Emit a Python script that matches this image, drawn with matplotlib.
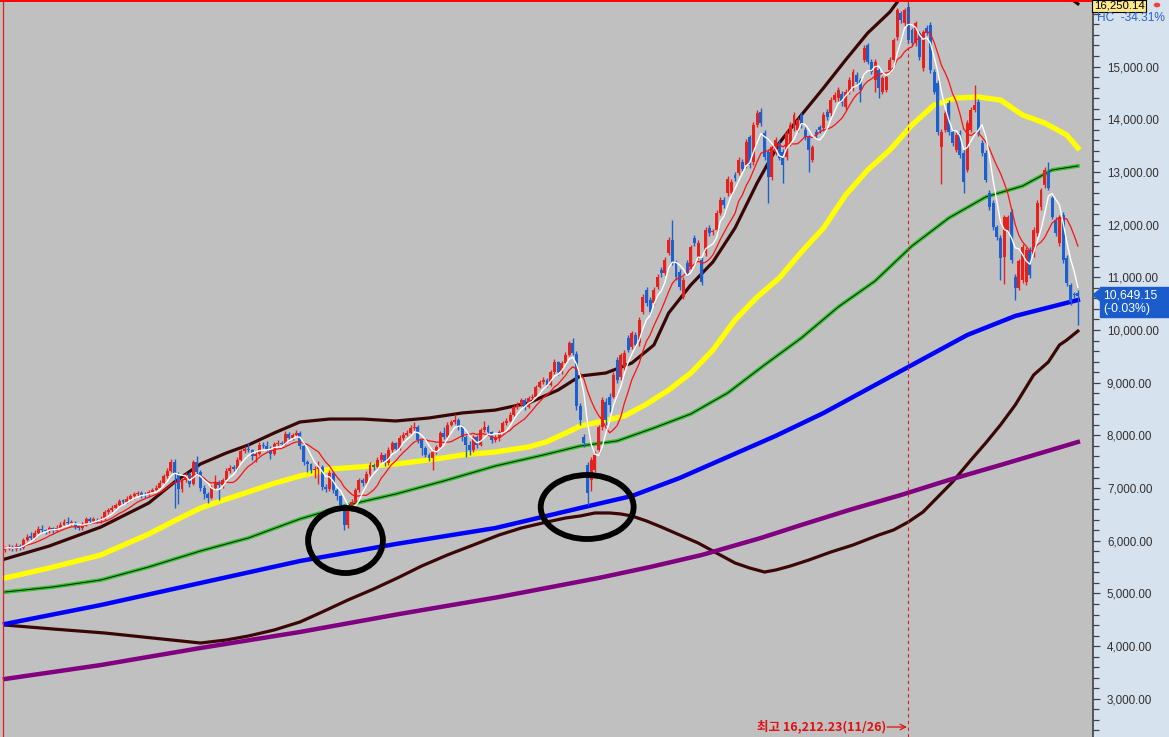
import matplotlib
matplotlib.use("Agg")
import matplotlib.pyplot as plt
import numpy as np
import pandas as pd
from matplotlib.patches import Ellipse, Rectangle, Polygon, Circle
from matplotlib.ticker import MultipleLocator, FuncFormatter

# ---------------- data (weekly candles) ----------------
opens = [5820, 5860, 5880, 5840, 5900, 5870, 6010, 6080, 6060, 6150, 6230, 6200, 6180, 6240, 6190, 6250, 6300, 6360, 6330, 6340,
         6270, 6240, 6310, 6420, 6380, 6400, 6370, 6420, 6550, 6580, 6630, 6680, 6760, 6740, 6800, 6840, 6880, 6900, 6870, 6860,
         6930, 6970, 7000, 7100, 7220, 7330, 7500, 7260, 6980, 7150, 7260, 7080, 7490, 7300, 7000, 6880, 6820, 7000, 7120, 7050,
         7150, 7330, 7380, 7370, 7540, 7700, 7750, 7720, 7600, 7650, 7820, 7800, 7750, 7650, 7830, 7860, 7830, 8030, 7950, 8000,
         8050, 7800, 7490, 7450, 7340, 7370, 7400, 7020, 6990, 7290, 6960, 6840, 6680, 6300, 6620, 6740, 6960, 7150, 7100, 7270,
         7440, 7400, 7530, 7630, 7470, 7720, 7850, 7750, 7950, 8010, 8050, 8140, 8160, 7910, 7760, 7630, 7570, 7690, 7780, 8040,
         7970, 8200, 8250, 8290, 8160, 7970, 7820, 7720, 7970, 7820, 8100, 8160, 8060, 7910, 7950, 8060, 8230, 8280, 8390, 8540,
         8580, 8670, 8540, 8710, 8730, 8920, 9010, 9050, 8960, 9200, 9390, 9200, 9370, 9530, 9750, 9550, 8560, 7960, 7440, 7150,
         7350, 7720, 8160, 8630, 8730, 8730, 9430, 9100, 9300, 9850, 9680, 9900, 9750, 10340, 10760, 10570, 10510, 10820, 11140, 11080,
         11460, 11710, 11270, 11100, 10630, 11270, 11200, 11750, 11390, 11330, 11460, 11940, 11860, 11900, 12220, 12470, 12600, 12600, 12940, 12980,
         13190, 13130, 13660, 13190, 13890, 14140, 13740, 13380, 12900, 13380, 13550, 13380, 13280, 13550, 13830, 13800, 14080, 13800, 13660, 13230,
         13760, 13850, 13830, 14140, 14120, 14370, 14400, 14480, 14230, 14520, 14590, 14840, 14740, 15130, 15400, 15090, 14740, 14930, 14520, 14560,
         14935, 15125, 15560, 16010, 15820, 16130, 15690, 15440, 15630, 14970, 15730, 15790, 14900, 14690, 13470, 13800, 14310, 13760, 13420, 13740,
         13360, 13040, 13800, 14180, 14330, 13550, 13360, 12600, 12410, 11950, 11750, 11390, 11900, 12240, 11010, 10800, 10940, 10910, 11520, 11440,
         11840, 12330, 12750, 13000, 12500, 12090, 11650, 12180, 11370, 10850, 10680, 10700]
closes = [5860, 5880, 5840, 5900, 5870, 6010, 6080, 6060, 6150, 6230, 6200, 6180, 6240, 6190, 6250, 6300, 6360, 6330, 6340, 6270,
          6240, 6310, 6420, 6380, 6400, 6370, 6420, 6550, 6580, 6630, 6680, 6760, 6740, 6800, 6840, 6880, 6900, 6870, 6860, 6930,
          6970, 7000, 7100, 7220, 7330, 7500, 7260, 6980, 7150, 7260, 7080, 7490, 7300, 7000, 6880, 6820, 7000, 7120, 7050, 7150,
          7330, 7380, 7370, 7540, 7700, 7750, 7720, 7600, 7650, 7820, 7800, 7750, 7650, 7830, 7860, 7830, 8030, 7950, 8000, 8050,
          7800, 7490, 7450, 7340, 7370, 7400, 7020, 6990, 7290, 6960, 6840, 6680, 6300, 6620, 6740, 6960, 7150, 7100, 7270, 7440,
          7400, 7530, 7630, 7470, 7720, 7850, 7750, 7950, 8010, 8050, 8140, 8160, 7910, 7760, 7630, 7570, 7690, 7780, 8040, 7970,
          8200, 8250, 8290, 8160, 7970, 7820, 7720, 7970, 7820, 8100, 8160, 8060, 7910, 7950, 8060, 8230, 8280, 8390, 8540, 8580,
          8670, 8540, 8710, 8730, 8920, 9010, 9050, 8960, 9200, 9390, 9200, 9370, 9530, 9750, 9560, 8560, 8300, 7860, 6900, 7530,
          7630, 8160, 8670, 8290, 8580, 9150, 9050, 9530, 9560, 9620, 9940, 9720, 10190, 10630, 10510, 10340, 10760, 11010, 11080, 11330,
          11710, 11290, 11010, 10820, 10950, 11080, 11580, 11650, 11650, 10910, 11900, 11840, 11870, 12220, 12470, 12370, 12870, 12810, 12880, 13230,
          13060, 13570, 13130, 13890, 14120, 13930, 13280, 12900, 13470, 13610, 13270, 13130, 13740, 13890, 14080, 13990, 13890, 13660, 13420, 13470,
          13700, 13790, 14080, 14040, 14370, 14460, 14560, 14310, 14520, 14750, 14900, 14700, 14560, 15360, 15090, 14900, 15090, 14590, 14780, 14800,
          15125, 15500, 16070, 15880, 16070, 15500, 15440, 15820, 15180, 15650, 15640, 14930, 14520, 13760, 13760, 14120, 13760, 13550, 13700, 13320,
          12810, 13930, 14180, 14270, 13740, 13360, 12850, 12330, 11950, 11760, 11370, 12140, 12140, 11330, 10800, 11300, 11580, 11520, 11040, 11900,
          12410, 12650, 13040, 12700, 12150, 11840, 12140, 11330, 10890, 10530, 10660, 10649]
highs = [5900, 5930, 5910, 5950, 5940, 6060, 6130, 6170, 6200, 6280, 6300, 6230, 6280, 6270, 6300, 6350, 6410, 6450, 6390, 6370,
         6300, 6360, 6460, 6450, 6450, 6430, 6470, 6590, 6630, 6680, 6720, 6800, 6800, 6850, 6880, 6930, 6950, 6940, 6920, 6970,
         7010, 7050, 7150, 7270, 7380, 7550, 7560, 7300, 7200, 7310, 7300, 7540, 7600, 7340, 7050, 6920, 7050, 7250, 7150, 7200,
         7380, 7430, 7430, 7590, 7750, 7800, 7850, 7750, 7700, 7870, 7870, 7900, 7790, 7880, 7910, 7900, 8080, 8070, 8050, 8110,
         8080, 7830, 7540, 7480, 7420, 7520, 7430, 7080, 7340, 7320, 7000, 6870, 6700, 6660, 6790, 7000, 7190, 7200, 7320, 7490,
         7480, 7580, 7680, 7660, 7770, 7890, 7880, 8000, 8060, 8100, 8200, 8260, 8190, 7940, 7790, 7660, 7740, 7820, 8080, 8150,
         8250, 8300, 8400, 8330, 8190, 8000, 7900, 8000, 8000, 8140, 8270, 8200, 8090, 8010, 8100, 8270, 8330, 8440, 8580, 8630,
         8710, 8700, 8750, 8780, 8960, 9060, 9100, 9090, 9240, 9440, 9420, 9420, 9580, 9800, 9850, 9600, 8620, 8020, 7500, 7580,
         7700, 8200, 8720, 8700, 8800, 9200, 9480, 9560, 9620, 9900, 9980, 9960, 10240, 10680, 10810, 10620, 10810, 11060, 11190, 11380,
         11760, 12090, 11320, 11150, 11000, 11320, 11620, 11800, 11700, 11380, 11950, 11990, 11920, 12270, 12520, 12520, 12920, 12860, 12990, 13280,
         13240, 13620, 13710, 13940, 14170, 14210, 13790, 13430, 13520, 13660, 13600, 13430, 13790, 13940, 14130, 14040, 14130, 13850, 13710, 13520,
         13810, 13900, 14130, 14190, 14420, 14510, 14610, 14530, 14570, 14800, 14950, 14890, 14790, 15410, 15450, 15140, 15140, 14980, 14830, 14850,
         15180, 15550, 16120, 16060, 16120, 16212, 15740, 15870, 15680, 15700, 15780, 15840, 14950, 14740, 13810, 14170, 14360, 13810, 13750, 13790,
         13410, 13980, 14230, 14650, 14380, 13600, 13410, 12650, 12460, 12000, 11800, 12190, 12190, 12290, 11060, 11350, 11630, 11570, 11570, 11950,
         12460, 12700, 13090, 13190, 12550, 12140, 12190, 12230, 11420, 10900, 10720, 10760]
lows = [5790, 5820, 5800, 5810, 5830, 5850, 5990, 6020, 6040, 6120, 6150, 6120, 6150, 6150, 6170, 6220, 6280, 6300, 6290, 6230,
        6200, 6210, 6280, 6340, 6350, 6330, 6340, 6400, 6510, 6550, 6600, 6650, 6690, 6710, 6760, 6800, 6840, 6820, 6810, 6830,
        6900, 6940, 6980, 7080, 7190, 7300, 6620, 6700, 6920, 7110, 7020, 7050, 7250, 6950, 6800, 6720, 6790, 6970, 6780, 7010,
        7120, 7290, 7320, 7340, 7510, 7660, 7680, 7540, 7500, 7620, 7760, 7700, 7560, 7620, 7800, 7780, 7810, 7900, 7920, 7960,
        7750, 7440, 7300, 7280, 7200, 7080, 6960, 6920, 6940, 6900, 6780, 6620, 6200, 6250, 6580, 6700, 6920, 7040, 7060, 7230,
        7350, 7370, 7500, 7420, 7440, 7690, 7700, 7720, 7920, 7980, 8020, 8110, 7860, 7620, 7580, 7510, 7340, 7650, 7750, 7930,
        7940, 8170, 8220, 8110, 7900, 7580, 7620, 7690, 7760, 7790, 8060, 8010, 7860, 7880, 7900, 8030, 8190, 8250, 8360, 8500,
        8550, 8490, 8510, 8680, 8700, 8890, 8980, 8920, 8930, 9170, 9150, 9170, 9340, 9500, 9520, 8480, 8200, 7780, 6680, 6950,
        7300, 7650, 8100, 8200, 8450, 8700, 9000, 9050, 9250, 9580, 9640, 9680, 9700, 10300, 10460, 10280, 10470, 10780, 11000, 11040,
        11420, 11240, 10950, 10760, 10580, 11030, 11150, 11600, 11350, 10850, 11400, 11790, 11810, 11860, 12180, 12320, 12550, 12560, 12830, 12940,
        13010, 13080, 13080, 13140, 13850, 13880, 13230, 12410, 12850, 13330, 13220, 12790, 13230, 13500, 13780, 13750, 13840, 13610, 12990, 13180,
        13650, 13740, 13780, 13990, 14070, 14320, 14350, 14260, 14180, 14470, 14540, 14650, 14330, 15080, 15040, 14850, 14520, 14400, 14470, 14510,
        14880, 15070, 15510, 15830, 15770, 15450, 15390, 15390, 15130, 14920, 15590, 14880, 14470, 13710, 12770, 13750, 13710, 13500, 13370, 13270,
        12600, 12990, 13750, 14130, 13690, 13310, 12800, 12280, 11900, 11710, 10950, 10870, 11850, 11280, 10570, 10750, 10890, 10860, 10990, 11390,
        11790, 12280, 12700, 12650, 12100, 11790, 11600, 11280, 10840, 10480, 10600, 10100]

# long moving averages and envelope, read at candle positions
ma_yellow_idx = [0, 12, 26, 39, 46, 53, 60, 66, 73, 80, 88, 96, 106, 115, 124, 133, 142, 147, 152, 156, 161, 168, 174, 180,
                 186, 192, 198, 204, 210, 216, 222, 228, 234, 240, 246, 252, 258, 264, 270, 276, 282, 288, 291]
ma_yellow = [5293, 5483, 5730, 6128, 6380, 6620, 6790, 6925, 7090, 7228, 7360, 7400, 7456, 7533, 7627, 7685, 7780, 7880, 8040, 8177,
             8253, 8367, 8594, 8860, 9183, 9620, 10190, 10626, 10986, 11480, 11935, 12562, 13037, 13416, 13890, 14270, 14403, 14422, 14365,
             14080, 13928, 13700, 13454]
ma_green_idx = [0, 13, 26, 39, 53, 66, 80, 93, 106, 119, 133, 146, 156, 166, 176, 186, 196, 206, 216, 226, 236, 246, 256, 266, 276, 284, 291]
ma_green = [5027, 5122, 5255, 5502, 5805, 6052, 6413, 6678, 6887, 7134, 7419, 7627, 7798, 7893, 8140, 8406, 8804, 9336, 9848, 10437,
            10930, 11594, 12126, 12524, 12733, 13037, 13113]
ma_blue_idx = [0, 26, 53, 80, 106, 133, 156, 170, 183, 196, 209, 222, 235, 248, 261, 274, 291]
ma_blue = [4420, 4780, 5198, 5615, 5938, 6241, 6621, 6849, 7191, 7590, 7989, 8424, 8918, 9412, 9905, 10266, 10569]
ma_purple_idx = [0, 26, 53, 80, 107, 134, 161, 175, 189, 205, 216, 229, 243, 256, 270, 291]
ma_purple = [3376, 3641, 3964, 4268, 4610, 4932, 5293, 5502, 5730, 6052, 6300, 6584, 6868, 7153, 7437, 7874]
band_up_idx = [0, 12, 26, 39, 46, 53, 60, 66, 73, 80, 88, 97, 106, 115, 124, 133, 142, 150, 156, 163, 170, 176, 180,
               186, 192, 198, 204, 210, 216, 222, 228, 234, 240, 246, 256, 266, 276, 286, 291]
band_up = [5653, 5900, 6260, 6716, 7115, 7456, 7665, 7817, 8045, 8254, 8310, 8310, 8273, 8330, 8425, 8480, 8615, 8860, 9127, 9184,
           9373, 9715, 10322, 10854, 11290, 11935, 12790, 13549, 14080, 14593, 15125, 15637, 16035, 16600, 17100, 17200, 16900, 16450, 16190]
band_lo_idx = [0, 13, 27, 40, 53, 60, 66, 73, 80, 86, 93, 100, 107, 113, 120, 127, 134, 140, 147, 152, 156, 160, 164, 167, 170, 174,
               178, 183, 188, 193, 198, 202, 206, 209, 213, 218, 224, 230, 237, 241, 245, 249, 253, 257, 262, 266, 270, 274, 279, 283, 286, 288, 291]
band_lo = [4400, 4325, 4249, 4154, 4059, 4116, 4192, 4306, 4458, 4647, 4875, 5084, 5312, 5520, 5730, 5919, 6109, 6241, 6356, 6431,
           6470, 6527, 6527, 6508, 6470, 6375, 6261, 6109, 5957, 5767, 5578, 5482, 5406, 5444, 5520, 5634, 5786, 5919, 6109, 6204,
           6356, 6546, 6830, 7115, 7533, 7855, 8197, 8576, 9146, 9393, 9715, 9810, 9980]

hc_value = 16250.14
hc_label = "16,250.14"
hc_change = "HC  -34.31%"
last_label = "10,649.15"
last_change = "(-0.03%)"
peak_index = 245
peak_text = "최고 16,212.23(11/26)"
y_ticks = list(range(3000, 16001, 1000))

# ---------------- figure ----------------
W, H = 1169, 737
fig = plt.figure(figsize=(W / 100, H / 100), dpi=100, facecolor="#d7e2ef")
ax = fig.add_axes([0, 0, 1093 / W, 1])
ax.set_facecolor("#c0c0c0")
ax.set_xlim(-1.36, 295.1)
ax.set_ylim(2275, 16263)

O = np.array(opens, float)
C = np.array(closes, float)
Hh = np.array(highs, float)
L = np.array(lows, float)
idx = np.arange(len(C))

# long lines
ax.plot(band_up_idx, band_up, color="#3a0606", lw=2.3, zorder=2)
ax.plot(band_lo_idx, band_lo, color="#3a0606", lw=2.3, zorder=2)
ax.plot(ma_purple_idx, ma_purple, color="#800080", lw=3.2, zorder=2)
ax.plot(ma_blue_idx, ma_blue, color="#0000ff", lw=3.2, zorder=2)
ax.plot(ma_green_idx, ma_green, color="#33c033", lw=2.8, zorder=2)
ax.plot(ma_green_idx, ma_green, color="#102000", lw=0.7, zorder=2)
ax.plot(ma_yellow_idx, ma_yellow, color="#ffff00", lw=3.8, zorder=2)

# candles
up = C >= O
cols = np.where(up, "#e8201c", "#1c60d0")
ax.vlines(idx, L, Hh, colors=cols, lw=1.0, zorder=3)
bottom = np.minimum(O, C)
height = np.maximum(np.abs(C - O), 25)
ax.bar(idx, height, bottom=bottom, width=0.8, color=cols, linewidth=0, zorder=3)

# short moving averages
s = pd.Series(C)
ax.plot(idx, s.rolling(10, min_periods=1).mean(), color="#ff1010", lw=0.9, zorder=4)
ax.plot(idx, s.rolling(5, min_periods=1).mean(), color="#ffffff", lw=1.0, zorder=4)

# HC line, left marker line, peak marker
ax.axhline(hc_value, color="#ff0000", lw=1.4, zorder=5)
ax.axvline(-0.55, color="#e02020", lw=0.9, zorder=5)
ax.axvline(peak_index, color="#d02020", lw=0.8, ls=(0, (3, 3)), zorder=5)

# circles
for cx, cy, w, h in [(92.35, 6004, 20.3, 1234), (157.9, 6640, 25.2, 1215)]:
    ax.add_patch(Ellipse((cx, cy), w, h, fill=False, edgecolor="black", lw=4.2, zorder=6))

# bottom peak text + arrow
ax.annotate("", xy=(907 / 1093, 1 - 727 / 737), xytext=(887 / 1093, 1 - 727 / 737),
            xycoords="axes fraction", textcoords="axes fraction",
            arrowprops=dict(arrowstyle="->", color="#e01010", lw=0.9, shrinkA=0, shrinkB=0), zorder=7)
ax.text(886 / 1093, 1 - 727 / 737, peak_text, transform=ax.transAxes, ha="right", va="center",
        color="#e01010", fontsize=9, fontweight="bold", family=["Noto Sans CJK KR", "DejaVu Sans"], zorder=7)

# axis styling
for sp in ["top", "left", "bottom"]:
    ax.spines[sp].set_visible(False)
ax.spines["right"].set_color("#404040")
ax.spines["right"].set_linewidth(1.2)
ax.set_xticks([])
ax.yaxis.tick_right()
ax.set_yticks(y_ticks)
ax.yaxis.set_minor_locator(MultipleLocator(200))
ax.yaxis.set_major_formatter(FuncFormatter(lambda v, p: "" if v >= 16000 else f"{v:,.2f}"))
ax.tick_params(axis="y", which="major", direction="out", length=5, width=0.9, color="#404040",
               labelsize=8.4, labelcolor="#303030", pad=5)
ax.tick_params(axis="y", which="minor", direction="out", length=4, width=0.9, color="#404040")
for t in ax.get_yticklabels():
    t.set_family("Liberation Sans")

def fx(px):
    return px / W

def fy(py):
    return 1 - py / H

# top-right HC label
fig.text(fx(1119), fy(6), hc_label, ha="center", va="center", fontsize=8.2, family="Liberation Sans",
         color="black", bbox=dict(boxstyle="square,pad=0.12", fc="#ffe98a", ec="black", lw=0.8))
fig.patches.append(Circle((fx(1157), fy(5)), 0.0022, transform=fig.transFigure, color="#f04040"))
fig.text(fx(1097), fy(18), hc_change, ha="left", va="center", fontsize=8.6, family="Liberation Sans", color="#2a5fd0")

# last price label
fig.patches.append(Rectangle((fx(1100), fy(317)), fx(69), 30 / H, transform=fig.transFigure,
                             color="#1b5ccc"))
fig.patches.append(Polygon([(fx(1093), fy(295)), (fx(1100.5), fy(289)), (fx(1100.5), fy(301))],
                           closed=True, transform=fig.transFigure, color="#1b5ccc"))
fig.text(fx(1103), fy(295), last_label, ha="left", va="center", fontsize=8.8, family="Liberation Sans", color="white")
fig.text(fx(1103), fy(309), last_change, ha="left", va="center", fontsize=8.8, family="Liberation Sans", color="white")

fig.savefig("out.png", dpi=100, facecolor=fig.get_facecolor())
